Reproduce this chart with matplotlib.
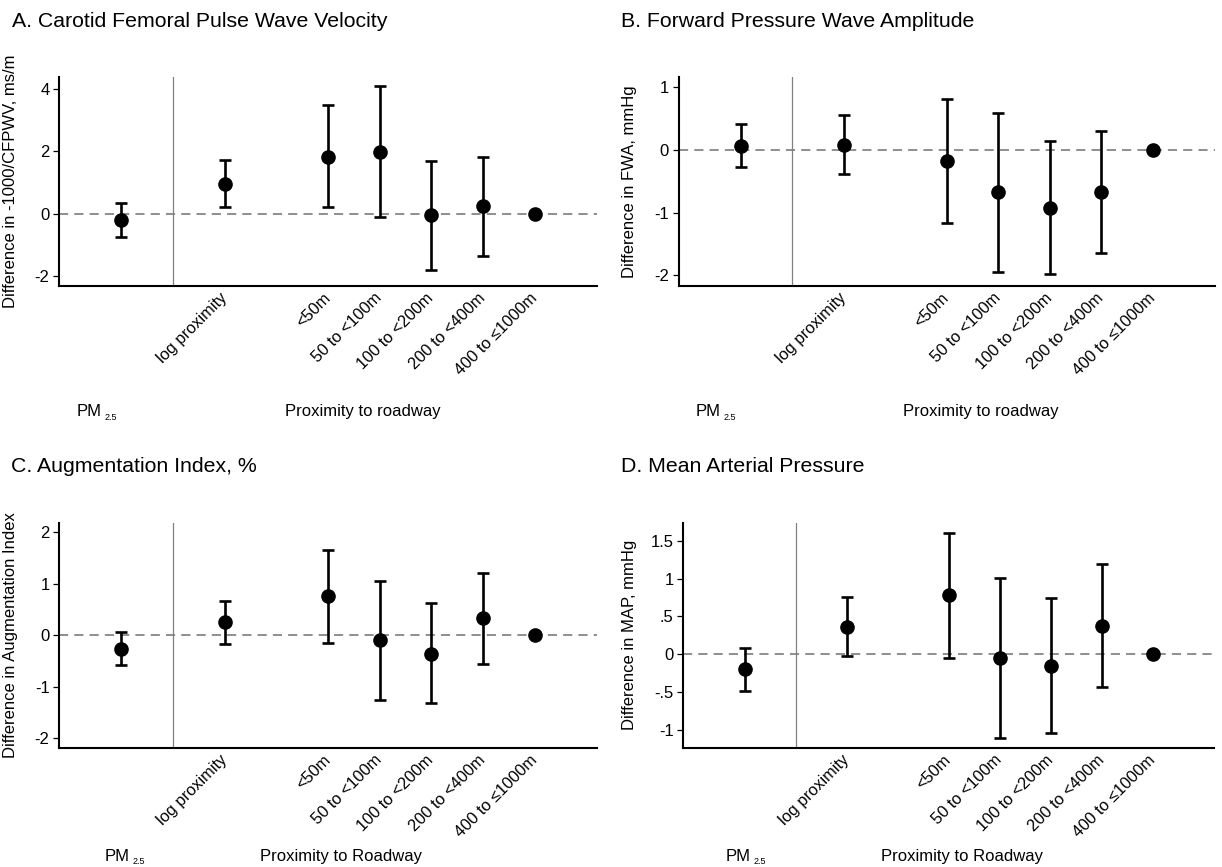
import matplotlib
matplotlib.use("Agg")
import matplotlib.pyplot as plt
import numpy as np

plt.rcParams['font.family'] = ['Liberation Sans', 'DejaVu Sans']

# ---------------- data ----------------
categories = ["log proximity", "<50m", "50 to <100m", "100 to <200m",
              "200 to <400m", "400 to \u22641000m"]

titles = ["A. Carotid Femoral Pulse Wave Velocity",
          "B. Forward Pressure Wave Amplitude",
          "C. Augmentation Index, %",
          "D. Mean Arterial Pressure"]
ylabels = ["Difference in -1000/CFPWV, ms/m",
           "Difference in FWA, mmHg",
           "Difference in Augmentation Index",
           "Difference in MAP, mmHg"]
prox_titles = ["Proximity to roadway", "Proximity to roadway",
               "Proximity to Roadway", "Proximity to Roadway"]

# PM2.5 estimate, lower, upper
pm_est = [-0.21, 0.064, -0.265, -0.20]
pm_lo = [-0.76, -0.28, -0.57, -0.486]
pm_hi = [0.35, 0.41, 0.06, 0.084]

# proximity estimates (last = reference category, no CI)
prox_est = [
    [0.94, 1.81, 1.96, -0.06, 0.23, 0.0],
    [0.08, -0.18, -0.68, -0.92, -0.67, 0.0],
    [0.25, 0.75, -0.10, -0.355, 0.33, 0.0],
    [0.36, 0.777, -0.057, -0.155, 0.375, 0.0],
]
prox_lo = [
    [0.20, 0.20, -0.10, -1.81, -1.35, np.nan],
    [-0.38, -1.17, -1.94, -1.98, -1.64, np.nan],
    [-0.17, -0.155, -1.26, -1.32, -0.55, np.nan],
    [-0.02, -0.053, -1.117, -1.047, -0.437, np.nan],
]
prox_hi = [
    [1.72, 3.48, 4.07, 1.69, 1.82, np.nan],
    [0.55, 0.81, 0.59, 0.14, 0.30, np.nan],
    [0.67, 1.65, 1.05, 0.62, 1.20, np.nan],
    [0.755, 1.61, 1.007, 0.746, 1.188, np.nan],
]

yticks = [[-2, 0, 2, 4], [-2, -1, 0, 1], [-2, -1, 0, 1, 2],
          [-1, -0.5, 0, 0.5, 1, 1.5]]
yticklabels = [["-2", "0", "2", "4"], ["-2", "-1", "0", "1"],
               ["-2", "-1", "0", "1", "2"],
               ["-1", "-.5", "0", ".5", "1", "1.5"]]
ylims = [(-2.32, 4.37), (-2.17, 1.16), (-2.18, 2.18), (-1.24, 1.74)]

# ---------------- layout ----------------
W, H = 1222, 867
fig = plt.figure(figsize=(W / 100, H / 100), dpi=100)

# pixel boxes: left, right, top, bottom
boxes = [(59.3, 596.5, 77, 286), (678.7, 1214.6, 77, 286),
         (59.3, 596.5, 522.7, 747.7), (683.4, 1214.0, 522.7, 747.7)]
title_pos = [(12, 26.7), (621, 26.7), (11, 471.5), (621, 471.5)]
ylabel_x = [18, 637, 18, 637]
bottom_info = [  # PM x, Prox x, baseline y
    (77, 285, 416), (696, 903, 416), (105, 260, 861), (726, 881, 861)]

pm_x = 1
sep_x = 2
prox_x = [3, 5, 6, 7, 8, 9]


def fx(px):
    return px / W


def fy(py):
    return 1 - py / H


for i in range(4):
    l, r, t, b = boxes[i]
    ax = fig.add_axes([fx(l), fy(b), fx(r) - fx(l), (b - t) / H])
    ax.set_xlim(-0.2, 10.2)
    ax.set_ylim(*ylims[i])

    ax.axhline(0, color="#707070", lw=1.1, ls=(0, (6, 4)), zorder=1)
    ax.axvline(sep_x, color="#808080", lw=0.9, zorder=1)

    err_kw = dict(fmt="o", color="black", ms=9.5, elinewidth=1.9,
                  capsize=4, capthick=1.9, zorder=3)
    ax.errorbar([pm_x], [pm_est[i]],
                yerr=[[pm_est[i] - pm_lo[i]], [pm_hi[i] - pm_est[i]]],
                **err_kw)
    est = np.array(prox_est[i])
    lo = np.array(prox_lo[i])
    hi = np.array(prox_hi[i])
    has = ~np.isnan(lo)
    ax.errorbar(np.array(prox_x)[has], est[has],
                yerr=[est[has] - lo[has], hi[has] - est[has]], **err_kw)
    ax.plot(np.array(prox_x)[~has], est[~has], "o", color="black", ms=9.5,
            zorder=3)

    for s in ["top", "right"]:
        ax.spines[s].set_visible(False)
    for s in ["left", "bottom"]:
        ax.spines[s].set_linewidth(1.5)
        ax.spines[s].set_color("black")

    ax.set_yticks(yticks[i])
    ax.set_yticklabels(yticklabels[i], fontsize=12)
    ax.tick_params(axis="y", length=4, width=0.9, pad=3)
    ax.set_xticks(prox_x)
    ax.set_xticklabels(categories, rotation=45, ha="right", va="center",
                       rotation_mode="anchor", fontsize=11.8)
    ax.tick_params(axis="x", length=0, pad=7)

    ax.set_ylabel(ylabels[i], fontsize=12)
    ax.yaxis.set_label_coords((ylabel_x[i] - l) / (r - l), 0.5)

    tx, ty = title_pos[i]
    fig.text(fx(tx), fy(ty), titles[i], fontsize=15.3, ha="left",
             va="baseline")

    pmx, prx, by = bottom_info[i]
    fig.text(fx(pmx), fy(by), "PM", fontsize=12, ha="left", va="baseline")
    fig.text(fx(pmx + 28), fy(by + 3.5), "2.5", fontsize=6.5, ha="left",
             va="baseline")
    fig.text(fx(prx), fy(by), prox_titles[i], fontsize=12, ha="left",
             va="baseline")

fig.savefig("out.png", dpi=100)
